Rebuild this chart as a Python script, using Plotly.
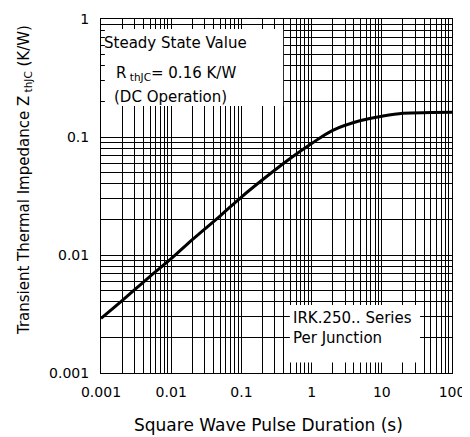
import plotly.graph_objects as go

# Data
pulse_duration_s = [0.001, 0.002, 0.005, 0.01, 0.02, 0.05, 0.1, 0.2, 0.5, 1, 2, 5, 10, 20, 50, 100]
zthjc_kw = [0.0029, 0.0041, 0.0066, 0.0093, 0.0135, 0.0215, 0.031, 0.0434, 0.066, 0.088,
            0.114, 0.138, 0.150, 0.159, 0.161, 0.162]

x_decades = [0.001, 0.01, 0.1, 1, 10, 100]
x_labels = ["0.001", "0.01", "0.1", "1", "10", "100"]
y_decades = [0.001, 0.01, 0.1, 1]
y_labels = ["0.001", "0.01", "0.1", "1"]
grid_digits = [2, 3, 4, 5, 6, 7, 8, 9]


def minor_vals(decades):
    return [d * m for d in decades[:-1] for m in grid_digits]


FONT = "DejaVu Sans"

fig = go.Figure()
fig.add_trace(go.Scatter(
    x=pulse_duration_s, y=zthjc_kw, mode="lines",
    line=dict(color="black", width=3, shape="spline"),
    showlegend=False, hoverinfo="skip",
))

axis_common = dict(
    type="log", showline=True, linecolor="black", linewidth=1, mirror=True,
    showgrid=True, gridcolor="black", gridwidth=1, zeroline=False,
    ticks="", tickfont=dict(family=FONT, size=14, color="black"),
    tickmode="array", tickangle=0,
)

fig.update_xaxes(range=[-3, 2], tickvals=x_decades, ticktext=x_labels, ticklabelstandoff=6,
                 minor=dict(tickmode="array", tickvals=minor_vals(x_decades), showgrid=True,
                            gridcolor="black", gridwidth=1, ticks=""),
                 **axis_common)
fig.update_yaxes(range=[-3, 0], tickvals=y_decades, ticktext=y_labels, ticklabelstandoff=8,
                 minor=dict(tickmode="array", tickvals=minor_vals(y_decades), showgrid=True,
                            gridcolor="black", gridwidth=1, ticks=""),
                 **axis_common)

# White boxes behind the text notes
fig.add_shape(type="rect", xref="paper", yref="paper", x0=0.011, x1=0.519, y0=0.754, y1=0.972,
              fillcolor="white", line=dict(width=0), layer="above")
fig.add_shape(type="rect", xref="paper", yref="paper", x0=0.538, x1=0.909, y0=0.03, y1=0.192,
              fillcolor="white", line=dict(width=0), layer="above")

note_font = dict(family=FONT, size=15, color="black")
fig.add_annotation(xref="paper", yref="paper", x=0.004, y=(373 - 43) / 354, xanchor="left", yanchor="middle",
                   text="Steady State Value", showarrow=False, font=note_font)
fig.add_annotation(xref="paper", yref="paper", x=0.036, y=(373 - 73) / 354, xanchor="left", yanchor="middle",
                   text="R<sub> thJC</sub>= 0.16 K/W", showarrow=False, font=note_font)
fig.add_annotation(xref="paper", yref="paper", x=0.03, y=(373 - 97) / 354, xanchor="left", yanchor="middle",
                   text="(DC Operation)", showarrow=False, font=note_font)
fig.add_annotation(xref="paper", yref="paper", x=0.54, y=(373 - 318) / 354, xanchor="left", yanchor="middle",
                   text="IRK.250.. Series", showarrow=False, font=note_font)
fig.add_annotation(xref="paper", yref="paper", x=0.54, y=(373 - 338) / 354, xanchor="left", yanchor="middle",
                   text="Per Junction", showarrow=False, font=note_font)

# Axis titles
fig.add_annotation(xref="paper", yref="paper", x=0.477, y=0, yshift=-52, xanchor="center", yanchor="middle",
                   text="Square Wave Pulse Duration (s)", showarrow=False,
                   font=dict(family=FONT, size=17, color="black"))
fig.add_annotation(xref="paper", yref="paper", x=0, xshift=-77, y=0.545, xanchor="center", yanchor="middle",
                   textangle=-90, text="Transient Thermal Impedance Z<sub> thJC</sub> (K/W)",
                   showarrow=False, font=dict(family=FONT, size=15, color="black"))

# The page body adds an 8px margin, so the figure is sized to fit inside it.
fig.update_layout(
    width=462, height=429,
    margin=dict(l=93, r=18, t=11, b=64, autoexpand=False),
    paper_bgcolor="white", plot_bgcolor="white",
)

fig.write_html("out.html")
